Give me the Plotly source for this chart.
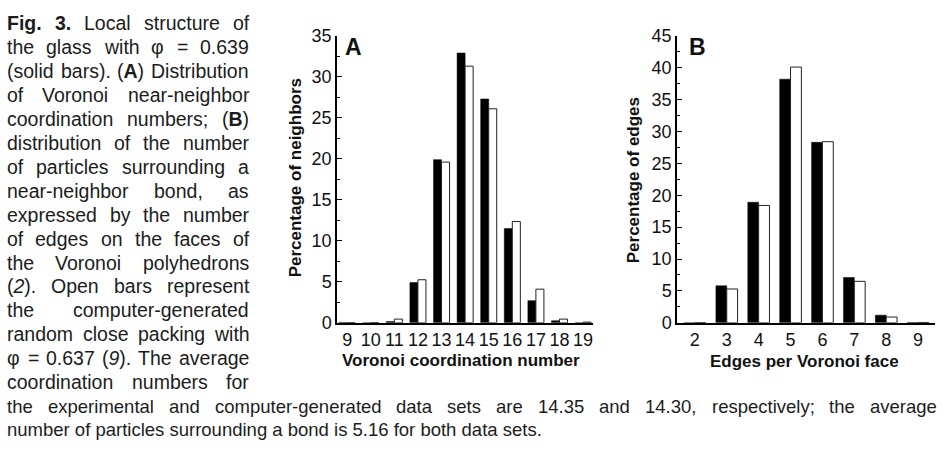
import plotly.graph_objects as go

# ---------------- data ----------------
coord_numbers = [9, 10, 11, 12, 13, 14, 15, 16, 17, 18, 19]
coord_experiment = [0.05, 0.0, 0.15, 4.9, 19.9, 32.9, 27.3, 11.5, 2.7, 0.25, 0.0]
coord_simulation = [0.0, 0.0, 0.45, 5.25, 19.6, 31.3, 26.1, 12.35, 4.1, 0.45, 0.08]

edges_numbers = [2, 3, 4, 5, 6, 7, 8, 9]
edges_experiment = [0.0, 5.8, 18.9, 38.2, 28.3, 7.1, 1.2, 0.05]
edges_simulation = [0.0, 5.3, 18.4, 40.1, 28.4, 6.5, 0.9, 0.05]

yticks_a = [0, 5, 10, 15, 20, 25, 30, 35]
yticks_b = [0, 5, 10, 15, 20, 25, 30, 35, 40, 45]

caption_column = [
    ["<b>Fig.</b>", "<b>3.</b>", "Local", "structure", "of"],
    ["the", "glass", "with", "φ", "=", "0.639"],
    ["(solid", "bars).", "(<b>A</b>)", "Distribution"],
    ["of", "Voronoi", "near-neighbor"],
    ["coordination", "numbers;", "(<b>B</b>)"],
    ["distribution", "of", "the", "number"],
    ["of", "particles", "surrounding", "a"],
    ["near-neighbor", "bond,", "as"],
    ["expressed", "by", "the", "number"],
    ["of", "edges", "on", "the", "faces", "of"],
    ["the", "Voronoi", "polyhedrons"],
    ["(<i>2</i>).", "Open", "bars", "represent"],
    ["the", "computer-generated"],
    ["random", "close", "packing", "with"],
    ["φ", "=", "0.637", "(<i>9</i>).", "The", "average"],
    ["coordination", "numbers", "for"],
]
caption_wide = ("the experimental and computer-generated data sets are 14.35 and 14.30, "
                "respectively; the average").split()
caption_last = "number of particles surrounding a bond is 5.16 for both data sets."

# ---------------- layout constants ----------------
W, H = 945, 460
FONT = "Liberation Sans, Arial, Helvetica, sans-serif"
CAP_SIZE = 19.5
WIDE_SIZE = 18.5

REG = {' ': 278, '(': 333, ')': 333, ',': 278, '-': 333, '.': 278, ';': 278, '=': 584,
       'φ': 700}
for ch in '0123456789':
    REG[ch] = 556
REG.update(dict(zip('ABCDEFGHIJKLMNOPQRSTUVWXYZ',
                    [667, 667, 722, 722, 667, 611, 778, 722, 278, 500, 667, 556, 833, 722, 778,
                     667, 778, 722, 667, 611, 722, 667, 944, 667, 667, 611])))
REG.update(dict(zip('abcdefghijklmnopqrstuvwxyz',
                    [556, 556, 500, 556, 556, 278, 556, 556, 222, 222, 500, 222, 833, 556, 556,
                     556, 556, 333, 500, 278, 556, 500, 722, 500, 500, 500])))
BOLD = {'A': 722, 'B': 722, 'F': 611, 'i': 278, 'g': 611, '.': 278, '3': 556}


def text_width(s, size):
    bold = False
    total = 0
    i = 0
    while i < len(s):
        if s[i] == '<':
            j = s.index('>', i)
            tag = s[i + 1:j]
            if tag == 'b':
                bold = True
            elif tag == '/b':
                bold = False
            i = j + 1
            continue
        ch = s[i]
        if bold:
            total += BOLD.get(ch, REG.get(ch, 556) * 1.08)
        else:
            total += REG.get(ch, 556)
        i += 1
    return total * size / 1000.0


annotations = []


def add_word(x_px, y_px, text, size):
    annotations.append(dict(
        x=x_px / W, y=1 - y_px / H, xref="paper", yref="paper", text=text,
        xanchor="left", yanchor="middle", showarrow=False, borderpad=0, borderwidth=0,
        font=dict(family=FONT, size=size, color="#1c1c1c")))


def justify(words, x0, x1, y_px, size):
    widths = [text_width(w, size) for w in words]
    space = size * 0.278
    if len(words) > 1:
        gap = (x1 - x0 - sum(widths)) / (len(words) - 1)
        gap = max(gap, space)
    else:
        gap = space
    x = x0
    for w, wd in zip(words, widths):
        add_word(x, y_px, w, size)
        x += wd + gap


LINE0, LINE_STEP = 14, 25
for k, words in enumerate(caption_column):
    justify(words, 7, 249, LINE0 + LINE_STEP * k, CAP_SIZE)
justify(caption_wide, 7, 937, LINE0 + LINE_STEP * 16, WIDE_SIZE)
add_word(7, LINE0 + LINE_STEP * 17, caption_last, WIDE_SIZE)

# ---------------- figure ----------------
fig = go.Figure()
fig.add_trace(go.Bar(x=coord_numbers, y=coord_experiment, xaxis="x", yaxis="y",
                     marker=dict(color="black", line=dict(color="black", width=0.5))))
fig.add_trace(go.Bar(x=coord_numbers, y=coord_simulation, xaxis="x", yaxis="y",
                     marker=dict(color="white", line=dict(color="#222", width=1))))
fig.add_trace(go.Bar(x=edges_numbers, y=edges_experiment, xaxis="x2", yaxis="y2",
                     marker=dict(color="black", line=dict(color="black", width=0.5))))
fig.add_trace(go.Bar(x=edges_numbers, y=edges_simulation, xaxis="x2", yaxis="y2",
                     marker=dict(color="white", line=dict(color="#222", width=1))))

ydom = [1 - 327 / H, 1 - 27 / H]
tickfont = dict(family=FONT, size=18, color="#111")

common_x = dict(showline=True, linecolor="black", linewidth=1.5, ticks="",
                showgrid=False, zeroline=False, tickfont=tickfont, fixedrange=True)
common_y = dict(showline=True, linecolor="black", linewidth=1.5, ticks="inside",
                ticklen=5, tickwidth=1, tickcolor="black", showgrid=False, zeroline=False,
                tickfont=tickfont, domain=ydom, fixedrange=True,
                minor=dict(ticks="inside", ticklen=3, dtick=2.5, tickcolor="black"))

fig.update_layout(
    width=W, height=H, margin=dict(l=0, r=0, t=0, b=0),
    paper_bgcolor="white", plot_bgcolor="white", showlegend=False,
    barmode="group", bargap=0.32, bargroupgap=0,
    xaxis=dict(domain=[337 / W, 593 / W], range=[8.57, 19.42], tickvals=coord_numbers,
               anchor="y", **common_x),
    yaxis=dict(range=[0, 35], tickvals=yticks_a, anchor="x", **common_y),
    xaxis2=dict(domain=[677 / W, 935 / W], range=[1.44, 9.53], tickvals=edges_numbers,
                anchor="y2", **common_x),
    yaxis2=dict(range=[0, 45], tickvals=yticks_b, anchor="x2", **common_y),
)

title_font = dict(family=FONT, size=17, color="#111")
annotations += [
    dict(x=461 / W, y=1 - 366 / H, text="<b>Voronoi coordination number</b>",
         xanchor="center", yanchor="middle"),
    dict(x=804 / W, y=1 - 367 / H, text="<b>Edges per Voronoi face</b>",
         xanchor="center", yanchor="middle"),
    dict(x=295 / W, y=1 - 176 / H, text="<b>Percentage of neighbors</b>", textangle=-90,
         xanchor="center", yanchor="middle"),
    dict(x=633 / W, y=1 - 178 / H, text="<b>Percentage of edges</b>", textangle=-90,
         xanchor="center", yanchor="middle"),
]
for a in annotations[-4:]:
    a.update(xref="paper", yref="paper", showarrow=False, font=title_font)

annotations += [
    dict(x=353 / W, y=1 - 39 / H, text="<b>A</b>", xref="paper", yref="paper",
         showarrow=False, xanchor="center", yanchor="middle",
         font=dict(family=FONT, size=23, color="#111")),
    dict(x=697 / W, y=1 - 39 / H, text="<b>B</b>", xref="paper", yref="paper",
         showarrow=False, xanchor="center", yanchor="middle",
         font=dict(family=FONT, size=23, color="#111")),
]
fig.update_layout(annotations=annotations)

fig.write_html("out.html", config={"displayModeBar": False},
               post_script="document.body.style.margin='0';document.body.style.overflow='hidden';")
